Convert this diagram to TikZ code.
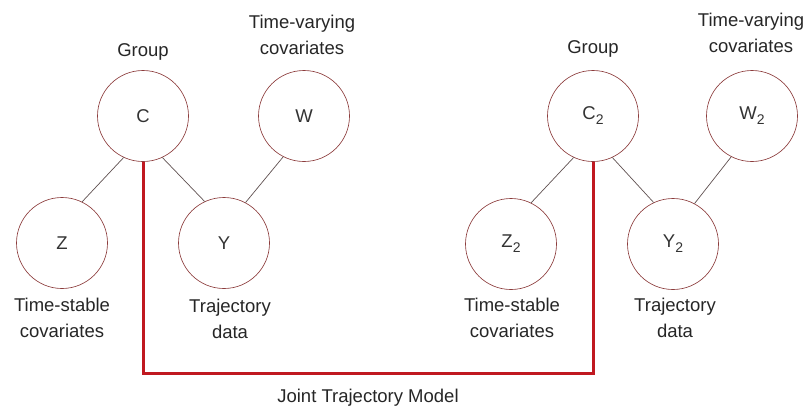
\documentclass[tikz,border=0pt]{standalone}
\usepackage{fontspec}
\setmainfont{Liberation Sans}

\definecolor{ringred}{RGB}{140,60,60}
\definecolor{linkgray}{RGB}{95,80,80}
\definecolor{jointred}{RGB}{192,24,32}
\newcommand{\subtwo}{\raisebox{-5pt}{\fontsize{14}{14}\selectfont 2}}

\begin{document}
\begin{tikzpicture}[
    x=1pt, y=-1pt,
    var/.style={circle, draw=ringred, line width=0.65pt, minimum size=91pt,
                inner sep=0pt, font=\fontsize{18.5}{22}\selectfont, text=black!80},
    lbl/.style={align=center, inner sep=0pt, font=\fontsize{18.5}{26}\selectfont, text=black!85},
    link/.style={draw=linkgray, line width=0.7pt},
    joint/.style={draw=jointred, line width=3pt}
]
    \useasboundingbox (0,0) rectangle (805,407);

    % first model
    \node[var] (C) at (143,116) {C};
    \node[var] (W) at (304,116) {W};
    \node[var] (Z) at (62,243) {Z};
    \node[var] (Y) at (224,243) {Y};

    \node[lbl, anchor=base] (grp) at (143,56) {Group};
    \node[lbl] (tv) at (302,34.5) {Time-varying\\covariates};
    \node[lbl] (ts) at (62,318) {Time-stable\\covariates};
    \node[lbl] (td) at (230,319) {Trajectory\\data};

    \draw[link] (C.245) -- (Z.64);
    \draw[link] (C.295) -- (Y.115);
    \draw[link] (W.243) -- (Y.62);

    % second model
    \node[var] (C2) at (593,116) {C\subtwo};
    \node[var] (W2) at (752,116) {W\subtwo};
    \node[var] (Z2) at (511,244) {Z\subtwo};
    \node[var] (Y2) at (673,244) {Y\subtwo};

    \node[lbl, anchor=base] (grp2) at (593,53) {Group};
    \node[lbl] (tv2) at (751,32.5) {Time-varying\\covariates};
    \node[lbl] (ts2) at (512,318) {Time-stable\\covariates};
    \node[lbl] (td2) at (675,318) {Trajectory\\data};

    \draw[link] (C2.245) -- (Z2.64);
    \draw[link] (C2.295) -- (Y2.115);
    \draw[link] (W2.243) -- (Y2.62);

    % joint link
    \coordinate (floor) at (368,373);
    \draw[joint] (C.south) |- (floor) -| (C2.south);
    \node[lbl, anchor=base] (jtm) at (368,402) {Joint Trajectory Model};
\end{tikzpicture}
\end{document}
